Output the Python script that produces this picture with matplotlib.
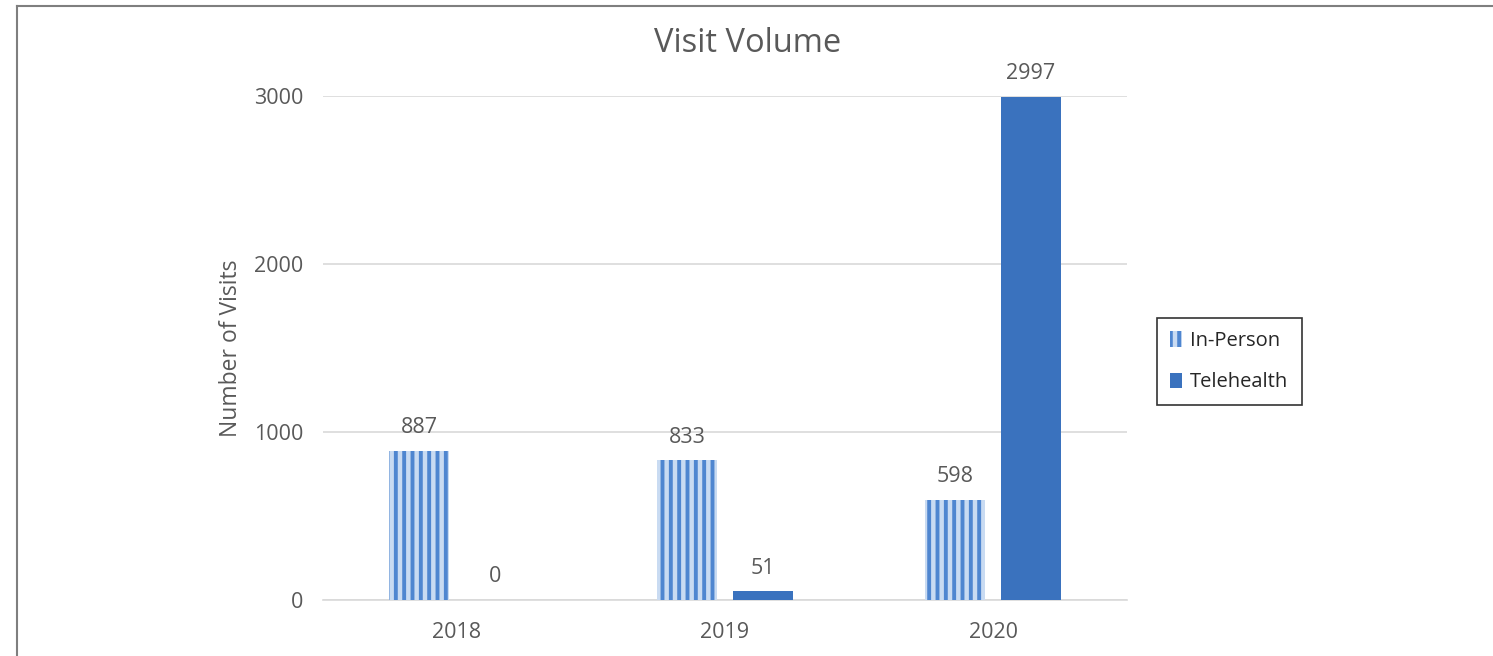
import matplotlib
matplotlib.use("Agg")
import matplotlib.pyplot as plt
import numpy as np
from matplotlib.lines import Line2D

years = ["2018", "2019", "2020"]
in_person = [887, 833, 598]
telehealth = [0, 51, 2997]
yticks = [0, 1000, 2000, 3000]

plt.rcParams['font.family'] = ['Open Sans', 'DejaVu Sans']
plt.rcParams['hatch.linewidth'] = 2.8

gray = '#595959'
tele_color = '#3A72BE'
stripe_color = '#4F86D0'
light_color = '#C9DBF2'

fig = plt.figure(figsize=(14.93, 6.56), dpi=100)
ax = fig.add_axes([323/1493, 1-600/656, (1127-323)/1493, (600-96)/656])

x = np.arange(len(years))
w = 0.224
off = 0.142
b1 = ax.bar(x - off, in_person, w, facecolor=light_color, edgecolor=stripe_color,
            hatch='||', linewidth=0, label='In-Person', zorder=3)
b2 = ax.bar(x + off, telehealth, w, color=tele_color, linewidth=0, label='Telehealth', zorder=3)

ax.bar_label(b1, padding=9, color=gray, fontsize=15.5)
ax.bar_label(b2, padding=9, color=gray, fontsize=15.5)

ax.set_xlim(-0.5, 2.5)
ax.set_ylim(0, 3000)
ax.set_yticks(yticks)
ax.set_xticks(x)
ax.set_xticklabels(years)
ax.tick_params(axis='both', length=0, labelsize=15.5, labelcolor=gray)
ax.tick_params(axis='y', pad=14)
ax.tick_params(axis='x', pad=16)
ax.grid(axis='y', color='#D9D9D9', linewidth=1.2, zorder=0)
ax.set_axisbelow(True)
for s in ['top', 'right', 'left']:
    ax.spines[s].set_visible(False)
ax.spines['bottom'].set_color('#D9D9D9')
ax.spines['bottom'].set_linewidth(1.2)

ax.set_ylabel('Number of Visits', fontsize=16.5, color=gray, labelpad=8)
fig.text(748/1493, 1-43/656, 'Visit Volume', ha='center', va='center', fontsize=23.5, color=gray)

leg = fig.legend(handles=[b1, b2], loc='upper left', bbox_to_anchor=(1157/1493, 1-318/656),
                 frameon=True, fancybox=False, edgecolor='black', fontsize=14.5,
                 handlelength=0.6, handleheight=0.8, handletextpad=0.4,
                 labelspacing=1.05, borderpad=0.65, borderaxespad=0, labelcolor='#262626')
leg.get_frame().set_linewidth(1.2)

fig.add_artist(Line2D([17/1493, 1], [1-6/656, 1-6/656], color='#7F7F7F', linewidth=1.5, transform=fig.transFigure))
fig.add_artist(Line2D([17/1493, 17/1493], [0, 1-6/656], color='#7F7F7F', linewidth=1.5, transform=fig.transFigure))

fig.savefig('out.png', dpi=100)
